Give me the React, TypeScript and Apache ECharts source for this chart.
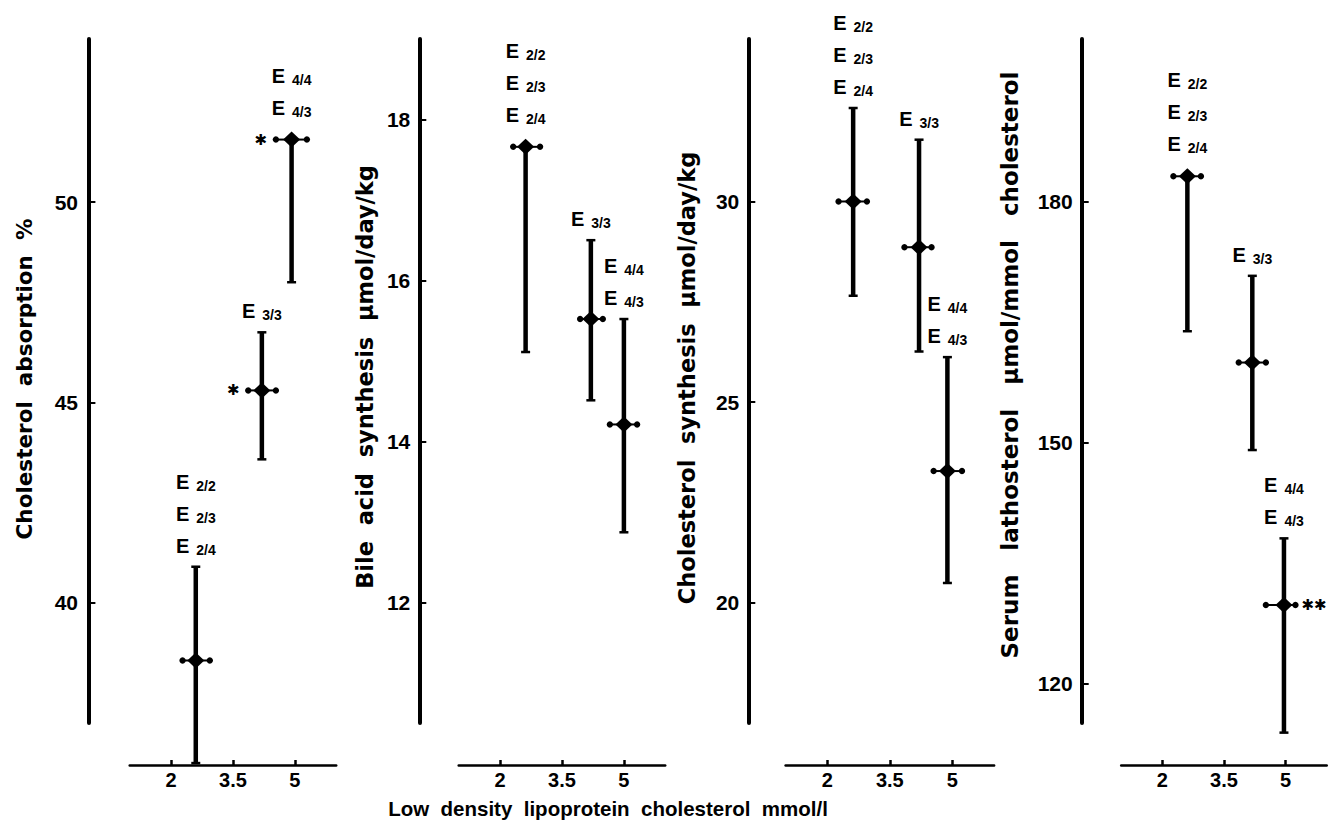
import React, { useEffect, useRef } from "react";
import * as echarts from "echarts";

// ---------- shared ----------
const xTickValues = [2, 3.5, 5];
const groupLabels = [["E 2/2", "E 2/3", "E 2/4"], ["E 3/3"], ["E 4/4", "E 4/3"]];
const xAxisTitle = "Low  density  lipoprotein  cholesterol  mmol/l";

// ---------- panel 1: cholesterol absorption ----------
const absName = "Cholesterol  absorption  %";
const absTicks = [40, 45, 50];
const absX = [2.6, 4.2, 4.92];
const absMean = [38.56, 45.3, 51.56];
const absLow = [36.0, 43.58, 48.0];
const absHigh = [40.9, 46.75, 51.56];
const absXLow = [2.28, 3.87, 4.54];
const absXHigh = [2.94, 4.54, 5.29];
const absStars = ["", "left", "left"];

// ---------- panel 2: bile acid synthesis ----------
const bileName = "Bile  acid  synthesis  \u03bcmol/day/kg";
const bileTicks = [12, 14, 16, 18];
const bileX = [2.62, 4.2, 5.0];
const bileMean = [17.66, 15.52, 14.21];
const bileLow = [15.11, 14.51, 12.87];
const bileHigh = [17.66, 16.5, 15.52];
const bileXLow = [2.32, 3.94, 4.66];
const bileXHigh = [2.97, 4.49, 5.32];
const bileStars = ["", "", ""];

// ---------- panel 3: cholesterol synthesis ----------
const synName = "Cholesterol  synthesis  \u03bcmol/day/kg";
const synTicks = [20, 25, 30];
const synX = [2.62, 4.2, 4.88];
const synMean = [30.0, 28.86, 23.28];
const synLow = [27.65, 26.26, 20.49];
const synHigh = [32.33, 31.54, 26.12];
const synXLow = [2.27, 3.85, 4.55];
const synXHigh = [2.95, 4.5, 5.23];
const synStars = ["", "", ""];

// ---------- panel 4: serum lathosterol ----------
const lathName = "Serum   lathosterol   \u03bcmol/mmol   cholesterol";
const lathTicks = [120, 150, 180];
const lathX = [2.61, 4.19, 4.96];
const lathMean = [183.2, 160.0, 129.8];
const lathLow = [163.9, 149.1, 113.9];
const lathHigh = [183.2, 170.8, 138.1];
const lathXLow = [2.27, 3.86, 4.52];
const lathXHigh = [2.94, 4.52, 5.24];
const lathStars = ["", "", "right"];

const panels = [
  { name: absName, ticks: absTicks, yMin: 37.0, yMax: 54.07, x: absX, mean: absMean, low: absLow, high: absHigh, xl: absXLow, xh: absXHigh, stars: absStars,
    layout: { x2: 171, ppu: 41.3, axisX: 87, nameX: 24, nameY: 379, nameSize: 21.5 } },
  { name: bileName, ticks: bileTicks, yMin: 10.5, yMax: 19.0, x: bileX, mean: bileMean, low: bileLow, high: bileHigh, xl: bileXLow, xh: bileXHigh, stars: bileStars,
    layout: { x2: 500, ppu: 41.3, axisX: 419.3, nameX: 365, nameY: 377, nameSize: 22.5 } },
  { name: synName, ticks: synTicks, yMin: 17.0, yMax: 34.05, x: synX, mean: synMean, low: synLow, high: synHigh, xl: synXLow, xh: synXHigh, stars: synStars,
    layout: { x2: 827.3, ppu: 41.7, axisX: 748.3, nameX: 687, nameY: 378, nameSize: 22.5 } },
  { name: lathName, ticks: lathTicks, yMin: 115.1, yMax: 200.3, x: lathX, mean: lathMean, low: lathLow, high: lathHigh, xl: lathXLow, xh: lathXHigh, stars: lathStars,
    layout: { x2: 1162.3, ppu: 41.1, axisX: 1081.7, nameX: 1010, nameY: 365, nameSize: 23 } },
];

const STAR_FONT = "15px 'DejaVu Sans'";

function makeRenderer(stars: string[]) {
  return (params: any, api: any) => {
    const i = params.dataIndex;
    const x = api.value(0), m = api.value(1), lo = api.value(2), hi = api.value(3);
    const xl = api.value(4), xh = api.value(5);
    const pm = api.coord([x, m]);
    const pl = api.coord([x, lo]);
    const ph = api.coord([x, hi]);
    const pxl = api.coord([xl, m]);
    const pxh = api.coord([xh, m]);
    const cx = pm[0], cy = pm[1];
    const children: any[] = [];
    children.push({ type: "line", shape: { x1: cx, y1: ph[1], x2: cx, y2: pl[1] }, style: { stroke: "#000", lineWidth: 4.5 } });
    children.push({ type: "line", shape: { x1: cx - 4.5, y1: pl[1], x2: cx + 4.5, y2: pl[1] }, style: { stroke: "#000", lineWidth: 2.5 } });
    if (hi > m) {
      children.push({ type: "line", shape: { x1: cx - 4.5, y1: ph[1], x2: cx + 4.5, y2: ph[1] }, style: { stroke: "#000", lineWidth: 2.5 } });
    }
    children.push({ type: "line", shape: { x1: pxl[0], y1: cy, x2: pxh[0], y2: cy }, style: { stroke: "#000", lineWidth: 2 } });
    children.push({ type: "circle", shape: { cx: pxl[0], cy, r: 3.2 }, style: { fill: "#000" } });
    children.push({ type: "circle", shape: { cx: pxh[0], cy, r: 3.2 }, style: { fill: "#000" } });
    children.push({
      type: "polygon",
      shape: { points: [[cx, cy - 8], [cx + 8.5, cy], [cx, cy + 8], [cx - 8.5, cy]] },
      style: { fill: "#000" },
    });
    const topY = Math.min(ph[1], cy);
    const base = hi > m ? 20 : 31;
    const labs = groupLabels[i];
    for (let j = 0; j < labs.length; j++) {
      const parts = labs[labs.length - 1 - j].split(" ");
      children.push({
        type: "text",
        x: cx,
        y: topY - base - j * 32,
        style: {
          text: `{e|${parts[0]}}{s|${parts[1]}}`,
          align: "center",
          verticalAlign: "middle",
          fill: "#000",
          rich: {
            e: { fontSize: 20, fontWeight: "bold", fontFamily: "Liberation Sans", fill: "#000", verticalAlign: "top", lineHeight: 22 },
            s: { fontSize: 14, fontWeight: "bold", fontFamily: "Liberation Sans", fill: "#000", verticalAlign: "top", padding: [7, 0, 0, 7], lineHeight: 16 },
          },
        },
      });
    }
    const st = stars[i];
    if (st === "left") {
      children.push({ type: "text", x: pxl[0] - 15, y: cy, style: { text: "\u2731", font: STAR_FONT, fill: "#000", align: "center", verticalAlign: "middle" } });
    } else if (st === "right") {
      children.push({ type: "text", x: pxh[0] + 6, y: cy, style: { text: "\u2731\u2731", font: STAR_FONT, fill: "#000", align: "left", verticalAlign: "middle" } });
    }
    return { type: "group", children };
  };
}

export default function App() {
  const ref = useRef<HTMLDivElement>(null);
  useEffect(() => {
    if (!ref.current) return;
    const chart = echarts.init(ref.current, undefined, { renderer: "svg" });
    const grid: any[] = [];
    const xAxis: any[] = [];
    const yAxis: any[] = [];
    const series: any[] = [];
    const graphic: any[] = [];
    panels.forEach((p, k) => {
      const L = p.layout;
      const left = L.x2 - 2 * L.ppu;
      // main plotting grid
      grid.push({ left, top: 39, width: 6 * L.ppu, height: 684 });
      xAxis.push({ gridIndex: 2 * k, type: "value", min: 0, max: 6, show: false });
      yAxis.push({
        gridIndex: 2 * k, type: "value", min: p.yMin, max: p.yMax, offset: left - L.axisX,
        axisLine: { show: true, lineStyle: { color: "#000", width: 4 } },
        axisTick: { show: true, inside: true, length: 7, customValues: p.ticks, lineStyle: { color: "#000", width: 2 } },
        axisLabel: { show: true, customValues: p.ticks, margin: 9, color: "#000", fontSize: 21, fontWeight: "bold", fontFamily: "Liberation Sans" },
        splitLine: { show: false },
      });
      // detached x-axis grid
      grid.push({ left: L.x2 - L.ppu, top: 759, width: 5 * L.ppu, height: 6 });
      xAxis.push({
        gridIndex: 2 * k + 1, type: "value", min: 1, max: 6,
        axisLine: { show: true, onZero: false, lineStyle: { color: "#000", width: 2.5 } },
        axisTick: { show: true, inside: true, length: 5, customValues: xTickValues, lineStyle: { color: "#000", width: 2.5 } },
        axisLabel: { show: true, customValues: xTickValues, margin: 5, color: "#000", fontSize: 20, fontWeight: "bold", fontFamily: "Liberation Sans" },
        splitLine: { show: false },
      });
      yAxis.push({ gridIndex: 2 * k + 1, type: "value", min: 0, max: 1, show: false });
      const data = p.x.map((xv, i) => [xv, p.mean[i], p.low[i], p.high[i], p.xl[i], p.xh[i]]);
      series.push({
        type: "custom",
        xAxisIndex: 2 * k,
        yAxisIndex: 2 * k,
        clip: false,
        encode: { x: 0, y: 1 },
        renderItem: makeRenderer(p.stars),
        data,
      });
      graphic.push({
        type: "text", x: L.nameX, y: L.nameY, rotation: Math.PI / 2,
        style: { text: p.name, font: `bold ${L.nameSize}px 'DejaVu Sans', sans-serif`, fill: "#000", align: "center", verticalAlign: "middle" },
      });
    });
    graphic.push({
      type: "text", x: 608, y: 808,
      style: { text: xAxisTitle, font: "bold 20.5px 'Liberation Sans', Arial, sans-serif", fill: "#000", align: "center", verticalAlign: "middle" },
    });
    chart.setOption({
      animation: false,
      backgroundColor: "#fff",
      grid, xAxis, yAxis, series, graphic,
    });
    return () => chart.dispose();
  }, []);
  return <div ref={ref} style={{ position: "absolute", left: 0, top: 0, width: 1331, height: 834, background: "#fff" }} />;
}
